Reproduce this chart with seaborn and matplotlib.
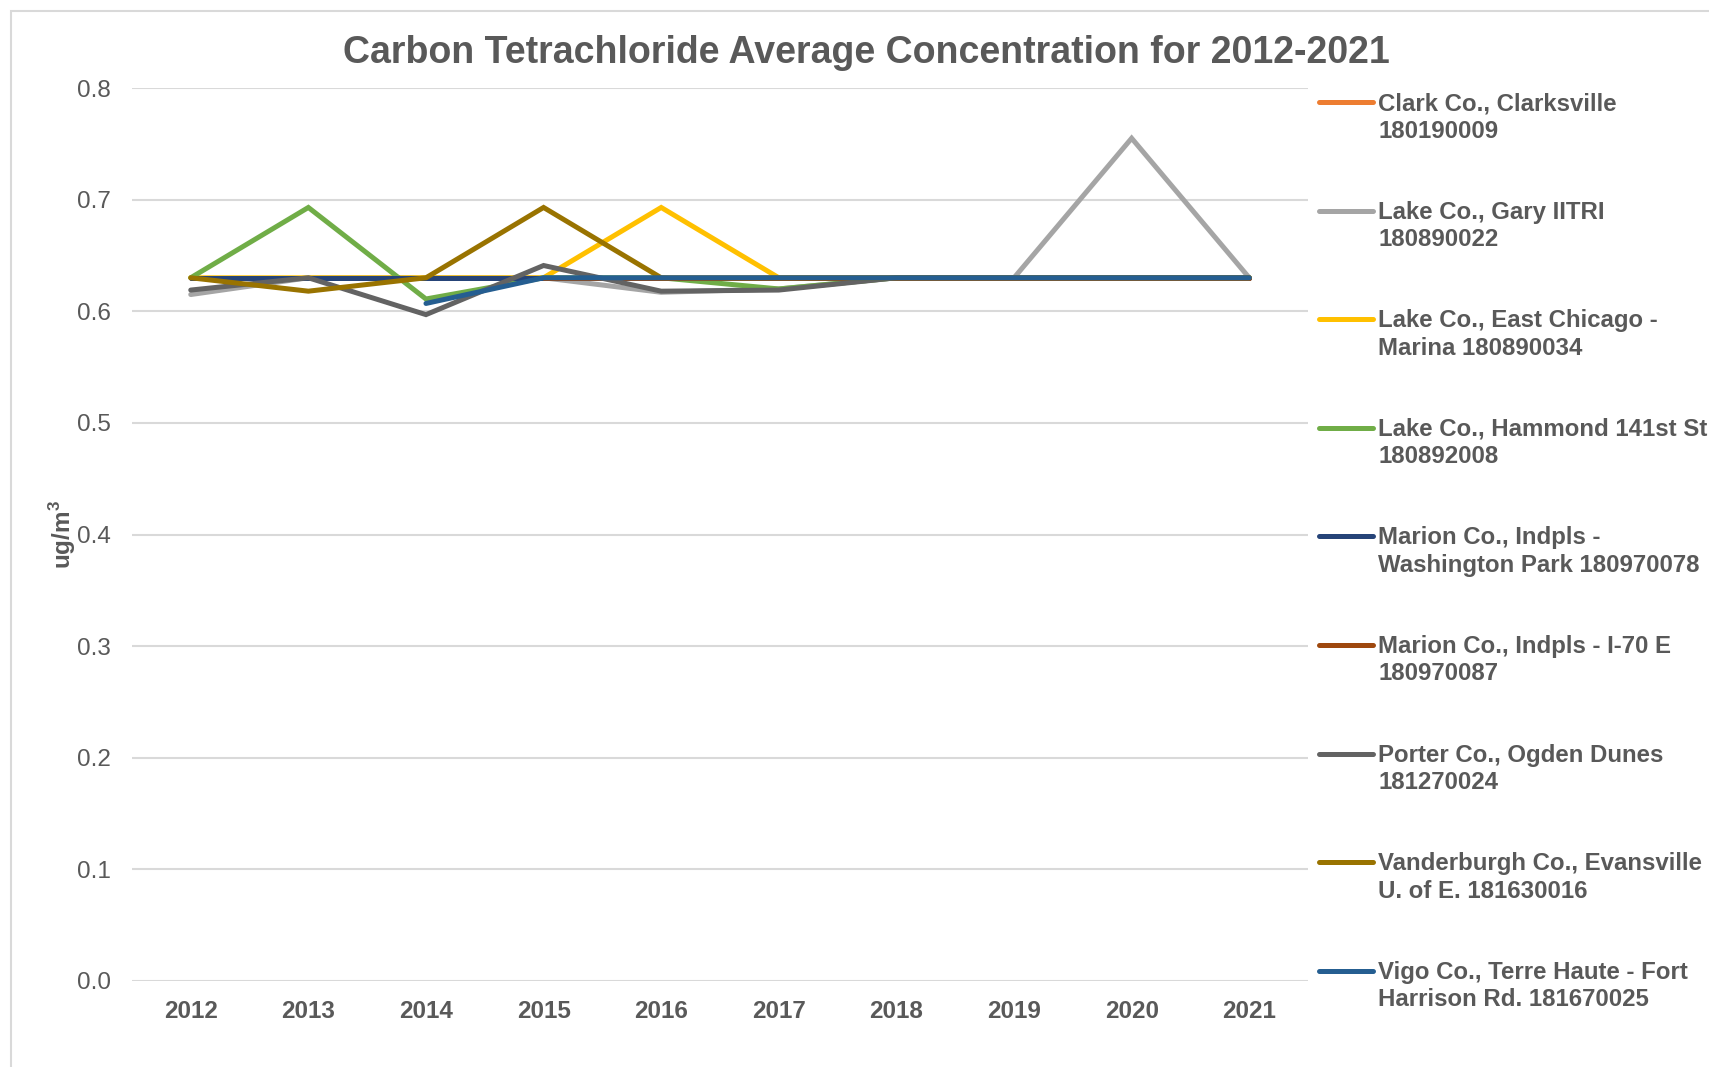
import matplotlib
matplotlib.use("Agg")
import matplotlib.pyplot as plt
import numpy as np
import pandas as pd
import seaborn as sns
from matplotlib.lines import Line2D
from matplotlib.patches import Rectangle

years = [2012, 2013, 2014, 2015, 2016, 2017, 2018, 2019, 2020, 2021]

sites = [
    "Clark Co., Clarksville\n180190009",
    "Lake Co., Gary IITRI\n180890022",
    "Lake Co., East Chicago -\nMarina 180890034",
    "Lake Co., Hammond 141st St.\n180892008",
    "Marion Co., Indpls -\nWashington Park 180970078",
    "Marion Co., Indpls - I-70 E\n180970087",
    "Porter Co., Ogden Dunes\n181270024",
    "Vanderburgh Co., Evansville\nU. of E. 181630016",
    "Vigo Co., Terre Haute - Fort\nHarrison Rd. 181670025",
]

clark = [0.63, 0.63, 0.63, 0.63, 0.63, 0.63, 0.63, 0.63, 0.63, 0.63]
gary = [0.615, 0.63, 0.63, 0.63, 0.617, 0.62, 0.63, 0.63, 0.755, 0.63]
east_chicago = [0.63, 0.63, 0.63, 0.63, 0.693, 0.63, 0.63, 0.63, 0.63, 0.63]
hammond = [0.63, 0.693, 0.611, 0.63, 0.63, 0.62, 0.63, 0.63, 0.63, 0.63]
washington_park = [0.63, 0.63, 0.63, 0.63, 0.63, 0.63, 0.63, 0.63, 0.63, 0.63]
i70 = [np.nan, np.nan, np.nan, 0.63, 0.63, 0.63, 0.63, 0.63, 0.63, 0.63]
porter = [0.619, 0.63, 0.597, 0.641, 0.618, 0.619, 0.63, 0.63, 0.63, 0.63]
vanderburgh = [0.63, 0.618, 0.63, 0.693, 0.63, 0.63, 0.63, 0.63, 0.63, 0.63]
vigo = [np.nan, np.nan, 0.607, 0.63, 0.63, 0.63, 0.63, 0.63, 0.63, 0.63]

series = [clark, gary, east_chicago, hammond, washington_park, i70, porter, vanderburgh, vigo]

colors = ["#ED7D31", "#A5A5A5", "#FFC000", "#70AD47", "#264478",
          "#9E480E", "#636363", "#997300", "#255E91"]

rows = []
for s, vals in zip(sites, series):
    for y, v in zip(years, vals):
        rows.append({"site": s, "year": y, "value": v})
df = pd.DataFrame(rows).dropna()

sns.set_theme(style="white")
plt.rcParams["font.family"] = ["Liberation Sans", "DejaVu Sans"]
TXT = "#595959"

fig = plt.figure(figsize=(17.09, 10.67), dpi=100)
ax = fig.add_axes([0.0772, 0.0806, 0.6882, 0.8369])

# outer chart border
fig.patches.append(Rectangle((11 / 1709, -0.1), 1.2, 1 - 11 / 1067 + 0.1,
                             transform=fig.transFigure, fill=False,
                             edgecolor="#D9D9D9", linewidth=1.5, zorder=0))

sns.lineplot(data=df, x="year", y="value", hue="site", hue_order=sites,
             palette=colors, linewidth=3.6, ax=ax, legend=False, sort=True,
             estimator=None)
for ln in ax.lines:
    ln.set_solid_capstyle("round")
    ln.set_solid_joinstyle("miter")

ax.set_xlim(2011.5, 2021.5)
ax.set_ylim(0, 0.8)
yt = np.arange(0, 0.81, 0.1)
ax.set_yticks(yt)
ax.set_yticklabels([f"{t:.1f}" for t in yt], fontsize=17.5, color=TXT)
ax.set_xticks(years)
ax.set_xticklabels([str(y) for y in years], fontsize=17.5, fontweight="bold", color=TXT)
ax.tick_params(axis="both", length=0)
ax.tick_params(axis="y", pad=15)
ax.tick_params(axis="x", pad=13.5)
ax.yaxis.grid(True, color="#D9D9D9", linewidth=1.5)
ax.set_axisbelow(True)
for sp in ax.spines.values():
    sp.set_visible(False)
ax.set_xlabel("")
ax.set_ylabel("ug/m$^{\\mathregular{3}}$", fontsize=17.5, fontweight="bold", color=TXT)
ax.yaxis.set_label_coords(-0.0455, 0.5)

fig.text(0.507, 1 - 53 / 1067, "Carbon Tetrachloride Average Concentration for 2012-2021",
         ha="center", va="center", fontsize=27, fontweight="bold", color=TXT)

# legend
x0, x1 = 1319 / 1709, 1373 / 1709
xt = 1378 / 1709
for i, (lab, col) in enumerate(zip(sites, colors)):
    yl = 1 - (102 + i * 108.6) / 1067
    fig.add_artist(Line2D([x0, x1], [yl, yl], transform=fig.transFigure,
                          color=col, linewidth=3.6, solid_capstyle="round"))
    fig.text(xt, yl + 10 / 1067, lab, ha="left", va="top", fontsize=17.3,
             fontweight="bold", color=TXT, linespacing=1.25)

fig.savefig("out.png", dpi=100)
